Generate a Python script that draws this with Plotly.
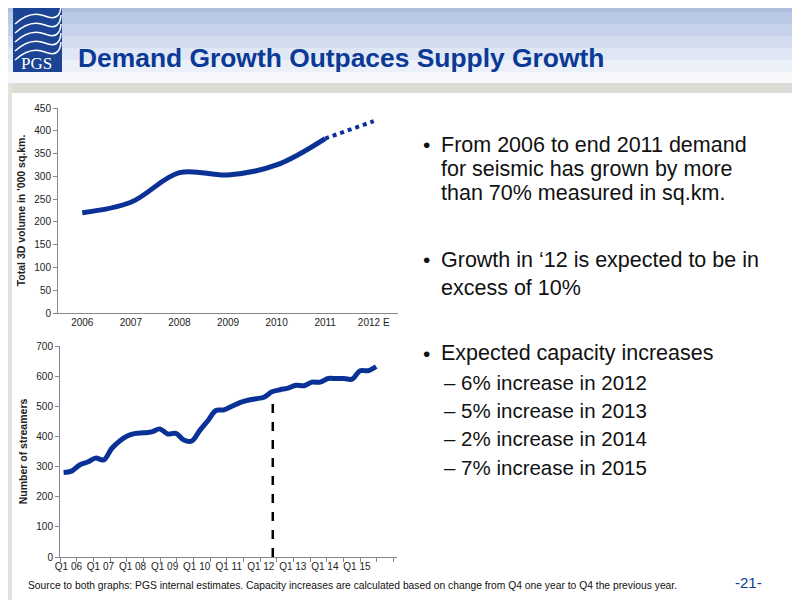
import plotly.graph_objects as go

years = ["2006", "2007", "2008", "2009", "2010", "2011", "2012 E"]
demand = [220, 243, 308, 303, 325, 383, 421]

quarters_label = ["Q1 06", "Q1 07", "Q1 08", "Q1 09", "Q1 10", "Q1 11", "Q1 12", "Q1 13", "Q1 14", "Q1 15"]
streamers = [280, 285, 305, 315,
             328, 322, 360, 385,
             402, 410, 412, 415,
             425, 408, 410, 388,
             385, 420, 452, 486,
             488, 500, 512, 520,
             525, 530, 548, 555,
             560, 570, 568, 580,
             580, 592, 592, 592,
             590, 618, 618, 632]
forecast_start = 26.1

W, H = 800, 600
OFF = 8
def px(x): return (x - OFF) / W
def py(y): return 1 - (y - OFF) / H

fig = go.Figure()
blue = "#0a3296"
fig.add_trace(go.Scatter(x=years[:6], y=demand[:6], mode="lines", line=dict(color=blue, width=5, shape="spline"),
                         xaxis="x", yaxis="y", showlegend=False))
fig.add_trace(go.Scatter(x=years[5:], y=demand[5:], mode="lines", line=dict(color=blue, width=4, dash="dot"),
                         xaxis="x", yaxis="y", showlegend=False))
qx = list(range(len(streamers)))
fig.add_trace(go.Scatter(x=qx, y=streamers, mode="lines", line=dict(color=blue, width=5, shape="spline"),
                         xaxis="x2", yaxis="y2", showlegend=False))
fig.add_trace(go.Scatter(x=[forecast_start, forecast_start], y=[0, 533], mode="lines",
                         line=dict(color="black", width=2.5, dash="dash"), xaxis="x2", yaxis="y2", showlegend=False))

font = "Liberation Sans, Arial, sans-serif"
axcol = "#888888"
fig.update_layout(
    width=W, height=H, margin=dict(l=0, r=0, t=0, b=0, autoexpand=False),
    paper_bgcolor="white", plot_bgcolor="rgba(0,0,0,0)",
    font=dict(family=font, size=10, color="#222"),
    xaxis=dict(domain=[px(58), px(398)], type="category", range=[-0.5, 6.5], showline=True, linecolor=axcol,
               ticks="", showgrid=False, tickfont=dict(size=10), anchor="y", automargin=False),
    yaxis=dict(domain=[py(313), py(108)], range=[0, 450], dtick=50, showline=True, linecolor=axcol,
               ticks="outside", ticklen=4, tickcolor=axcol, showgrid=False, zeroline=False, tickfont=dict(size=10),
               title=dict(text="<b>Total 3D volume in '000 sq.km.</b>", font=dict(size=10.5), standoff=6),
               anchor="x", automargin=False),
    xaxis2=dict(domain=[px(60), px(397)], range=[-0.45, 41.6], showline=True, linecolor=axcol,
                tickvals=[4 * i + 0.6 for i in range(len(quarters_label))], ticktext=quarters_label, ticks="",
                minor=dict(ticks="outside", tick0=-0.45, dtick=2.08, ticklen=4, tickcolor=axcol),
                showgrid=False, zeroline=False, tickfont=dict(size=10), anchor="y2", automargin=False),
    yaxis2=dict(domain=[py(557), py(346)], range=[0, 700], dtick=100, showline=True, linecolor=axcol,
                ticks="outside", ticklen=4, tickcolor=axcol, showgrid=False, zeroline=False, tickfont=dict(size=10),
                title=dict(text="<b>Number of streamers</b>", font=dict(size=10.5), standoff=6),
                anchor="x2", automargin=False),
)

shapes = []
cols = ["#aebfe0", "#b9c8e5", "#c6d2ea", "#d3ddef", "#e0e7f4", "#ecf0f8", "#f6f8fb"]
for i, c in enumerate(cols):
    shapes.append(dict(type="rect", xref="paper", yref="paper", x0=0, x1=1, y0=py(12 * (i + 1)),
                       y1=1 if i == 0 else py(12 * i), fillcolor=c, line=dict(width=0), layer="below"))
shapes.append(dict(type="rect", xref="paper", yref="paper", x0=0, x1=1, y0=py(93), y1=py(83),
                   fillcolor="#dcdcd6", line=dict(width=0), layer="below"))
shapes.append(dict(type="rect", xref="paper", yref="paper", x0=0, x1=px(12), y0=0, y1=py(83),
                   fillcolor="#e4e2da", line=dict(width=0), layer="below"))
shapes.append(dict(type="rect", xref="paper", yref="paper", x0=px(13), x1=px(62), y0=py(72), y1=1,
                   fillcolor="#1b4494", line=dict(width=0)))
for k in range(5):
    y0 = 10 + k * 9
    shapes.append(dict(type="path", xref="paper", yref="paper",
                       path=f"M {px(15)},{py(y0 + 14)} Q {px(30)},{py(y0)} {px(45)},{py(y0 + 6)} T {px(61)},{py(y0 - 4)}",
                       line=dict(color="white", width=1.5)))
fig.update_layout(shapes=shapes)

ann = []
def A(text, x, y, size, color="#111", xanchor="left", fam=font):
    ann.append(dict(text=text, x=px(x), y=py(y), xref="paper", yref="paper", xanchor=xanchor, yanchor="middle",
                    showarrow=False, font=dict(family=fam, size=size, color=color)))

A("PGS", 37, 63, 17, "white", "center", "Liberation Serif, serif")
A("<b>Demand Growth Outpaces Supply Growth</b>", 76, 58, 26.4, "#0a3a96")
bul = [(145, True, "From 2006 to end 2011 demand"), (169, False, "for seismic has grown by more"),
       (193, False, "than 70% measured in sq.km."), (260, True, "Growth in \u201812 is expected to be in"),
       (288, False, "excess of 10%"), (353, True, "Expected capacity increases")]
for y, dot, t in bul:
    if dot:
        A("\u2022", 421, y, 21)
    A(t, 439, y, 21.5)
for y, t in [(382, "\u2013 6% increase in 2012"), (410, "\u2013 5% increase in 2013"),
             (438, "\u2013 2% increase in 2014"), (467, "\u2013 7% increase in 2015")]:
    A(t, 442, y, 20.5)
A("Source to both graphs: PGS internal estimates. Capacity increases are calculated based on change from Q4 one year to Q4 the previous year.",
  26, 585, 10.3)
A("-21-", 733, 582, 15, "#0a3a96")
fig.update_layout(annotations=ann)

fig.write_html("out.html")
